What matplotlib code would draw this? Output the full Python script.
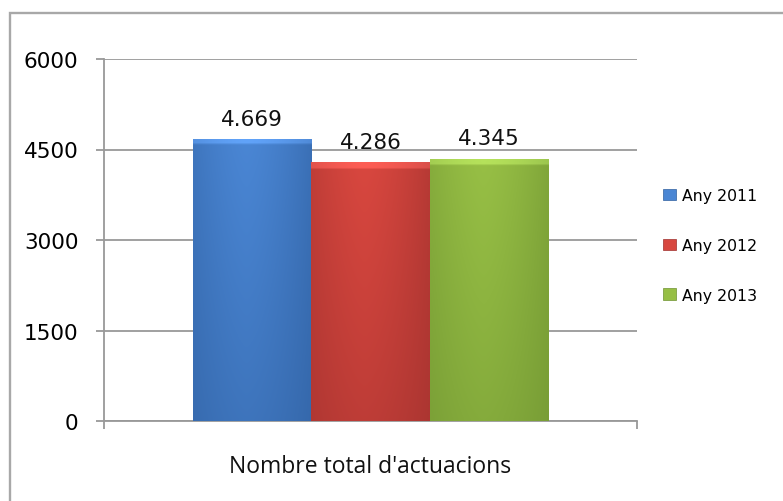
import numpy as np
import matplotlib
matplotlib.use("Agg")
import matplotlib.pyplot as plt
from matplotlib.patches import Rectangle, Patch
from matplotlib.colors import to_rgb

category = "Nombre total d'actuacions"
series = ["Any 2011", "Any 2012", "Any 2013"]
values = [4669, 4286, 4345]
value_labels = ["4.669", "4.286", "4.345"]
yticks = [0, 1500, 3000, 4500, 6000]
colors = ["#4a86d4", "#d8473f", "#97bf45"]
dark = ["#2f5f9f", "#9e302d", "#6f9331"]

W, H = 783, 502
fig = plt.figure(figsize=(W / 100, H / 100), dpi=100)
fig.patch.set_facecolor("white")

# outer frame
fig.patches.append(Rectangle((10 / W, -0.1), 1.2, 1 - 14 / H + 0.1, transform=fig.transFigure,
                             fill=False, edgecolor="#a8a8a8", linewidth=1.7))

ax = fig.add_axes([104 / W, 1 - 422 / H, 533 / W, 362 / H])
ax.set_facecolor("none")
ax.set_xlim(-2.25, 2.25)
ax.set_ylim(0, 6000)

offsets = [-1, 0, 1]
bars = ax.bar(offsets, values, width=1.0, color=colors, edgecolor="none", zorder=2)

# gradient shading for each bar
for b, c, d in zip(bars, colors, dark):
    x0, y0 = b.get_x(), b.get_y()
    w, h = b.get_width(), b.get_height()
    cl = np.array(to_rgb(c))
    cd = np.array(to_rgb(d))
    nx, ny = 60, 120
    xs = np.linspace(0, 1, nx)
    ys = np.linspace(0, 1, ny)
    hx = 1 - 0.55 * np.abs(xs - 0.45) ** 1.5 * 2.5
    hx = np.clip(hx, 0, 1)
    vy = 0.55 + 0.45 * ys
    img = np.zeros((ny, nx, 3))
    for i in range(ny):
        t = np.clip(hx * vy[i], 0, 1)[:, None]
        img[i] = cd + (cl - cd) * t
    top_px = 7
    frac = top_px / (h / 6000 * 362)
    nt = max(1, int(ny * frac))
    img[-nt:] = np.clip(img[-nt:] * 1.1 + 0.06, 0, 1)
    im = ax.imshow(img, extent=[x0, x0 + w, y0, y0 + h], origin="lower",
                   aspect="auto", zorder=3, interpolation="bilinear")
    im.set_clip_path(b)

for off, v, lab in zip(offsets, values, value_labels):
    ax.annotate(lab, (off, v), xytext=(0, 10.5), textcoords="offset points",
                ha="center", va="baseline", fontsize=15.5, family="DejaVu Sans", color="#111111")

ax.set_yticks(yticks)
ax.set_yticklabels([str(t) for t in yticks], family="DejaVu Sans", fontsize=15.5)
ax.yaxis.grid(True, color="#999999", linewidth=1.3, zorder=0)
ax.set_axisbelow(True)
ax.tick_params(axis="y", length=5.8, width=1.3, color="#999999", pad=12.5)

ax.set_xticks([-2.25, 2.25])
ax.set_xticklabels(["", ""])
ax.tick_params(axis="x", length=5.8, width=1.3, color="#999999", direction="out")

fig.text(370 / W, 1 - 473 / H, category, ha="center", va="baseline",
         family="Open Sans", fontsize=16.5, color="#111111")

for s in ["top", "right"]:
    ax.spines[s].set_visible(False)
for s in ["left", "bottom"]:
    ax.spines[s].set_color("#999999")
    ax.spines[s].set_linewidth(1.3)

handles = [Patch(facecolor=c, edgecolor=d, linewidth=0.5) for c, d in zip(colors, dark)]
fig.legend(handles, series, loc="upper left", bbox_to_anchor=(663 / W, 1 - 189 / H),
           frameon=False, prop={"family": "DejaVu Sans", "size": 11.3},
           borderpad=0, borderaxespad=0,
           handlelength=0.83, handleheight=0.76, handletextpad=0.38, labelspacing=2.22)

fig.savefig("out.png", dpi=100)
